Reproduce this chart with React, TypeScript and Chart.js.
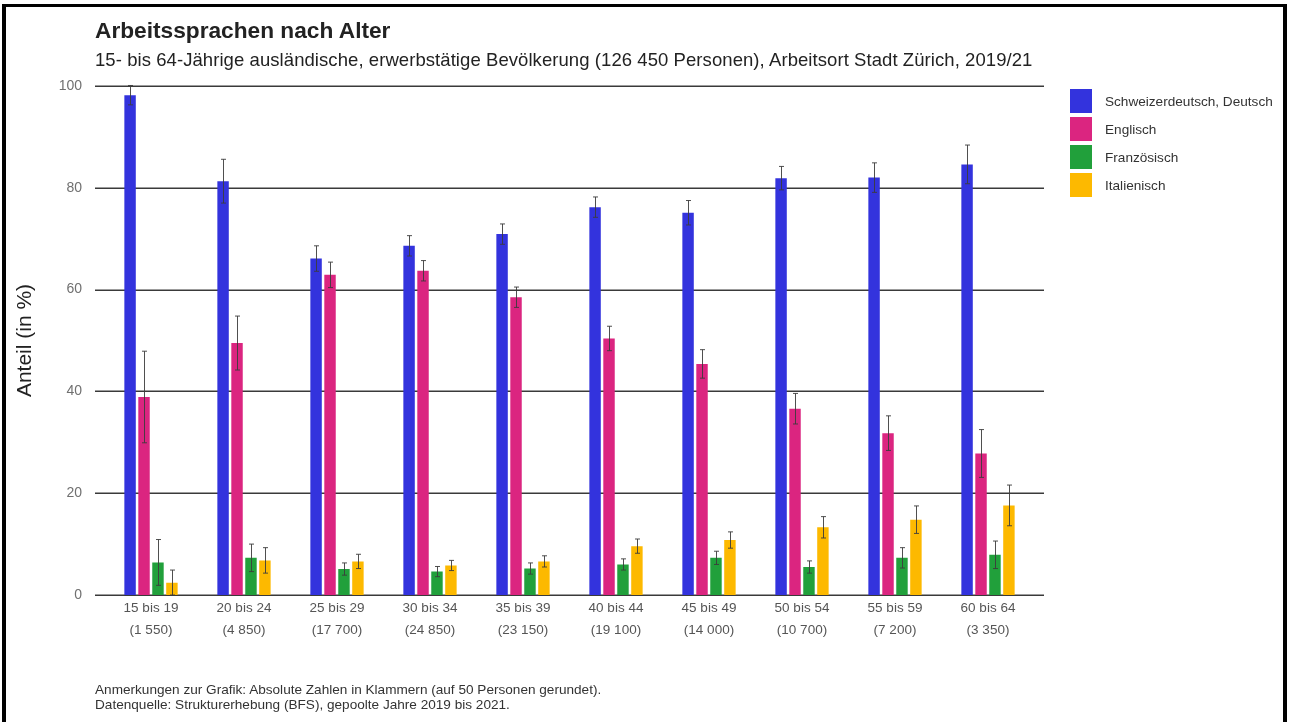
import React, { useEffect, useRef } from "react";
import { Chart, registerables } from "chart.js";

Chart.register(...registerables);

const FONT = "'Liberation Sans', Arial, Helvetica, sans-serif";

const categories: string[][] = [
  ["15 bis 19", "(1 550)"],
  ["20 bis 24", "(4 850)"],
  ["25 bis 29", "(17 700)"],
  ["30 bis 34", "(24 850)"],
  ["35 bis 39", "(23 150)"],
  ["40 bis 44", "(19 100)"],
  ["45 bis 49", "(14 000)"],
  ["50 bis 54", "(10 700)"],
  ["55 bis 59", "(7 200)"],
  ["60 bis 64", "(3 350)"],
];

const seriesNames = ["Schweizerdeutsch, Deutsch", "Englisch", "Französisch", "Italienisch"];
const seriesColors = ["#3333DD", "#DB2580", "#21A03B", "#FDB900"];

const deutsch = [98.2, 81.3, 66.1, 68.6, 70.9, 76.2, 75.1, 81.9, 82.0, 84.6];
const deutschErr = [1.9, 4.3, 2.5, 2.0, 2.0, 2.0, 2.4, 2.3, 2.9, 3.8];
const englisch = [38.9, 49.5, 62.9, 63.7, 58.5, 50.4, 45.4, 36.6, 31.8, 27.8];
const englischErr = [9.0, 5.3, 2.5, 2.0, 2.0, 2.4, 2.8, 3.0, 3.4, 4.7];
const franzoesisch = [6.4, 7.3, 5.1, 4.6, 5.2, 6.0, 7.3, 5.5, 7.3, 7.9];
const franzoesischErr = [4.5, 2.7, 1.2, 1.0, 1.1, 1.1, 1.3, 1.2, 2.0, 2.7];
const italienisch = [2.4, 6.8, 6.6, 5.8, 6.6, 9.6, 10.8, 13.3, 14.8, 17.6];
const italienischErr = [2.5, 2.5, 1.4, 1.0, 1.1, 1.4, 1.6, 2.1, 2.7, 4.0];

const seriesValues = [deutsch, englisch, franzoesisch, italienisch];
const seriesErrors = [deutschErr, englischErr, franzoesischErr, italienischErr];

const yMin = 0;
const yMax = 100;
const yStep = 20;

const titleText = "Arbeitssprachen nach Alter";
const subtitleText =
  "15- bis 64-Jährige ausländische, erwerbstätige Bevölkerung (126 450 Personen), Arbeitsort Stadt Zürich, 2019/21";
const yAxisTitle = "Anteil (in %)";
const footnotes = [
  "Anmerkungen zur Grafik: Absolute Zahlen in Klammern (auf 50 Personen gerundet).",
  "Datenquelle: Strukturerhebung (BFS), gepoolte Jahre 2019 bis 2021.",
];

const gridPlugin = {
  id: "extendedGrid",
  beforeDatasetsDraw(chart: any) {
    const { ctx, chartArea, scales } = chart;
    const y = scales.y;
    ctx.save();
    ctx.strokeStyle = "#3a3a3a";
    ctx.lineWidth = 1.5;
    y.ticks.forEach((t: any) => {
      const py = Math.round(y.getPixelForValue(t.value)) + 0.25;
      ctx.beginPath();
      ctx.moveTo(chartArea.left - 9.5, py);
      ctx.lineTo(chartArea.right + 9.5, py);
      ctx.stroke();
    });
    ctx.restore();
  },
};

const errorBarPlugin = {
  id: "errorBars",
  afterDatasetsDraw(chart: any) {
    const { ctx, scales } = chart;
    const y = scales.y;
    ctx.save();
    ctx.strokeStyle = "rgba(60,60,60,0.9)";
    ctx.lineWidth = 1;
    chart.data.datasets.forEach((ds: any, i: number) => {
      const meta = chart.getDatasetMeta(i);
      const errs = seriesErrors[i];
      meta.data.forEach((bar: any, j: number) => {
        const v = ds.data[j];
        const e = errs[j];
        const x = Math.round(bar.x) + 0.5;
        const yTop = y.getPixelForValue(v + e);
        const yBot = y.getPixelForValue(Math.max(0, v - e));
        ctx.beginPath();
        ctx.moveTo(x, yTop);
        ctx.lineTo(x, yBot);
        ctx.moveTo(x - 2.5, yTop);
        ctx.lineTo(x + 2.5, yTop);
        ctx.moveTo(x - 2.5, yBot);
        ctx.lineTo(x + 2.5, yBot);
        ctx.stroke();
      });
    });
    ctx.restore();
  },
};

export default function App() {
  const canvasRef = useRef<HTMLCanvasElement | null>(null);

  useEffect(() => {
    const canvas = canvasRef.current;
    if (!canvas) return;
    const chart = new Chart(canvas, {
      type: "bar",
      data: {
        labels: categories,
        datasets: seriesNames.map((name, i) => ({
          label: name,
          data: seriesValues[i],
          backgroundColor: seriesColors[i],
          borderWidth: 0,
          categoryPercentage: 0.6,
          barPercentage: 0.82,
        })),
      },
      options: {
        animation: false,
        responsive: false,
        devicePixelRatio: 1,
        layout: {
          padding: { left: 0, right: 256.5, top: 86, bottom: 82 },
        },
        plugins: {
          legend: { display: false },
          tooltip: { enabled: false },
          title: { display: false },
        },
        scales: {
          x: {
            type: "category",
            offset: true,
            grid: { display: false, drawTicks: false },
            border: { display: false },
            ticks: {
              color: "#555555",
              font: { family: FONT, size: 13.5, lineHeight: 1.62 },
              padding: 2.5,
              maxRotation: 0,
              autoSkip: false,
            },
            afterFit(axis: any) {
              axis.height = 45;
              axis.paddingLeft = 0;
              axis.paddingRight = 0;
            },
          },
          y: {
            type: "linear",
            min: yMin,
            max: yMax,
            grid: { display: false, drawTicks: false },
            border: { display: false },
            ticks: {
              stepSize: yStep,
              color: "#707070",
              font: { family: FONT, size: 14 },
              padding: 22.5,
            },
            title: {
              display: true,
              text: yAxisTitle,
              color: "#222222",
              font: { family: FONT, size: 21 },
              padding: { top: 13, bottom: 0 },
            },
            afterFit(axis: any) {
              axis.width = 104.5;
              axis.paddingTop = 0;
              axis.paddingBottom = 0;
            },
          },
        },
      },
      plugins: [gridPlugin, errorBarPlugin],
    } as any);
    return () => chart.destroy();
  }, []);

  return (
    <div
      style={{
        position: "fixed",
        left: 0,
        top: 0,
        width: 1291,
        height: 722,
        background: "#ffffff",
        overflow: "hidden",
        fontFamily: FONT,
      }}
    >
      <canvas
        ref={canvasRef}
        width={1291}
        height={722}
        style={{ position: "absolute", left: 0, top: 0, width: 1291, height: 722 }}
      />
      <div
        style={{
          position: "absolute",
          left: 95,
          top: 19,
          fontSize: 22.7,
          lineHeight: "22.7px",
          fontWeight: 700,
          color: "#222222",
          whiteSpace: "nowrap",
        }}
      >
        {titleText}
      </div>
      <div
        style={{
          position: "absolute",
          left: 95,
          top: 51,
          fontSize: 18.5,
          lineHeight: "18.5px",
          letterSpacing: 0.07,
          color: "#222222",
          whiteSpace: "nowrap",
        }}
      >
        {subtitleText}
      </div>
      <div style={{ position: "absolute", left: 1070, top: 89 }}>
        {seriesNames.map((name, i) => (
          <div
            key={name}
            style={{ display: "flex", alignItems: "center", height: 24, marginBottom: 4 }}
          >
            <div style={{ width: 22, height: 24, background: seriesColors[i] }} />
            <div
              style={{
                marginLeft: 13,
                fontSize: 13.6,
                color: "#333333",
                whiteSpace: "nowrap",
              }}
            >
              {name}
            </div>
          </div>
        ))}
      </div>
      <div
        style={{
          position: "absolute",
          left: 95,
          top: 682,
          fontSize: 13.6,
          lineHeight: "15px",
          color: "#333333",
          whiteSpace: "nowrap",
        }}
      >
        {footnotes.map((f) => (
          <div key={f}>{f}</div>
        ))}
      </div>
      <div
        style={{
          position: "absolute",
          left: 2,
          top: 4,
          width: 1277,
          height: 760,
          borderTop: "3px solid #000",
          borderLeft: "4px solid #000",
          borderRight: "4px solid #000",
          pointerEvents: "none",
        }}
      />
    </div>
  );
}
